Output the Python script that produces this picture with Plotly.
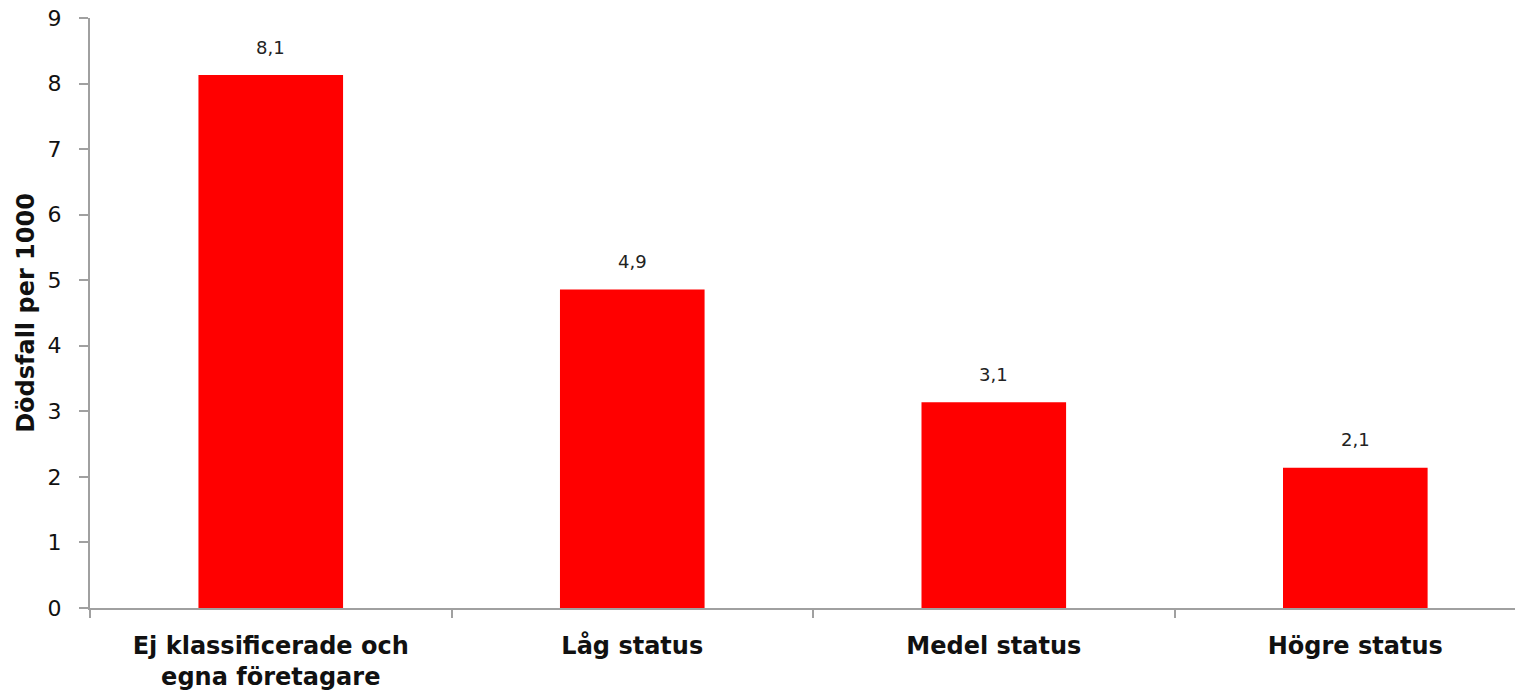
import plotly.graph_objects as go

# Data
categories = ["Ej klassificerade och<br>egna företagare", "Låg status", "Medel status", "Högre status"]
values = [8.13, 4.86, 3.14, 2.14]
labels = ["8,1", "4,9", "3,1", "2,1"]
y_ticks = [0, 1, 2, 3, 4, 5, 6, 7, 8, 9]

axis_grey = "#a0a0a0"
font_family = "DejaVu Sans"

fig = go.Figure()
fig.add_bar(x=categories, y=values, width=0.4, marker=dict(color="#ff0000", line=dict(width=0)))

# value labels above the bars
for cat, val, lab in zip(categories, values, labels):
    fig.add_annotation(x=cat, y=val, text=lab, showarrow=False, yshift=28,
                       font=dict(family=font_family, size=18, color="#222222"))

# page body adds 8px, so margins are 8px smaller
fig.update_layout(
    width=1523, height=690,
    margin=dict(l=82, r=0, t=10, b=90),
    plot_bgcolor="white", paper_bgcolor="white",
    showlegend=False,
    font=dict(family=font_family, color="#111111"),
)

fig.update_xaxes(
    range=[-0.5, 3.486],
    showline=True, linecolor=axis_grey, linewidth=2,
    ticks="outside", tickson="boundaries", ticklen=8, tickcolor=axis_grey, tickwidth=2,
    tickfont=dict(family=font_family, size=24, color="#111111", weight="bold"),
    ticklabelstandoff=15,
    showgrid=False,
)

fig.update_yaxes(
    range=[0, 9], tickvals=y_ticks,
    showline=True, linecolor=axis_grey, linewidth=2,
    ticks="outside", ticklen=9, tickcolor=axis_grey, tickwidth=2,
    tickfont=dict(family=font_family, size=22, color="#111111"),
    ticklabelstandoff=13, ticklabeloverflow="allow",
    automargin="left+right",
    showgrid=False, zeroline=False,
    title=dict(text="<b>Dödsfall per 1000</b>", font=dict(family=font_family, size=24, color="#111111"), standoff=6),
)

fig.write_html("out.html")
